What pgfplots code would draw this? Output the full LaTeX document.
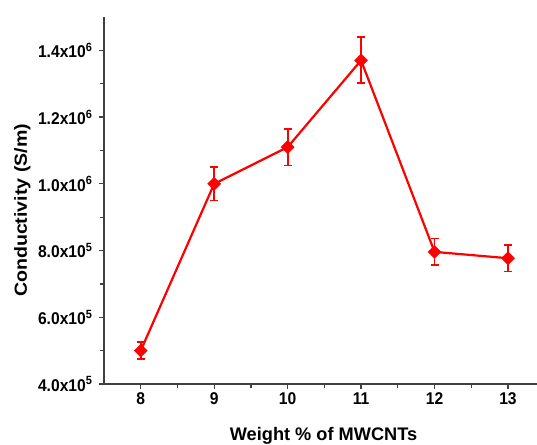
\documentclass[border=0pt]{standalone}
\usepackage{fontspec}
\setmainfont{Liberation Sans}
\newfontfamily\ticksfont[FakeStretch=0.92]{Liberation Sans}
\newfontfamily\ylabfont[FakeStretch=1.12]{Liberation Sans}
\usepackage{pgfplots}
\pgfplotsset{compat=1.18}
\usetikzlibrary{calc}
\definecolor{plotred}{RGB}{255,0,0}
\begin{document}
\begin{tikzpicture}
\begin{axis}[
    scale only axis,
    width=433pt, height=367pt,
    xmin=7.5, xmax=13.395,
    ymin=4e5, ymax=1.5e6,
    axis lines=left,
    axis line style={-, line width=1.2pt, color=black!75},
    xtick={8,...,13},
    xticklabels={8,9,10,11,12,13},
    ytick={4e5,6e5,8e5,1e6,1.2e6,1.4e6},
    yticklabels={4.0x10\textsuperscript{5},6.0x10\textsuperscript{5},8.0x10\textsuperscript{5},1.0x10\textsuperscript{6},1.2x10\textsuperscript{6},1.4x10\textsuperscript{6}},
    minor x tick num=1, minor y tick num=1,
    tick align=outside,
    major tick length=5pt, minor tick length=3.5pt,
    tick style={line width=1.2pt, color=black!75},
    ticklabel style={font=\ticksfont\fontsize{17}{19}\selectfont\bfseries},
    yticklabel style={xshift=-3pt},
    xlabel={Weight \% of MWCNTs},
    ylabel={Conductivity (S/m)},
    xlabel style={font=\fontsize{18.2}{20}\selectfont\bfseries,
        at={(axis description cs:0.507,-0.153)}, anchor=base},
    ylabel style={font=\ylabfont\fontsize{17.5}{20}\selectfont\bfseries,
        at={(axis description cs:-0.178,0.473)}, anchor=base},
    scaled y ticks=false,
    clip=false,
]
\addplot[plotred, line width=2.2pt,
    mark=square*, mark size=4.6pt,
    mark options={rotate=45, fill=plotred, draw=plotred, line width=0.4pt},
    error bars/.cd, y dir=both, y explicit,
    error mark options={rotate=90, plotred, line width=1.8pt, mark size=4pt},
    error bar style={plotred, line width=1.8pt}]
coordinates {
    (8,  5.00e5) +- (0, 2.6e4)
    (9,  1.00e6) +- (0, 5.0e4)
    (10, 1.11e6) +- (0, 5.5e4)
    (11, 1.37e6) +- (0, 6.9e4)
    (12, 7.96e5) +- (0, 4.0e4)
    (13, 7.77e5) +- (0, 4.0e4)
};
\end{axis}
\pgfresetboundingbox
\path[use as bounding box] ($(current axis.south west)+(-104pt,-60pt)$) rectangle ($(current axis.south west)+(433pt,384pt)$);
\end{tikzpicture}
\end{document}
